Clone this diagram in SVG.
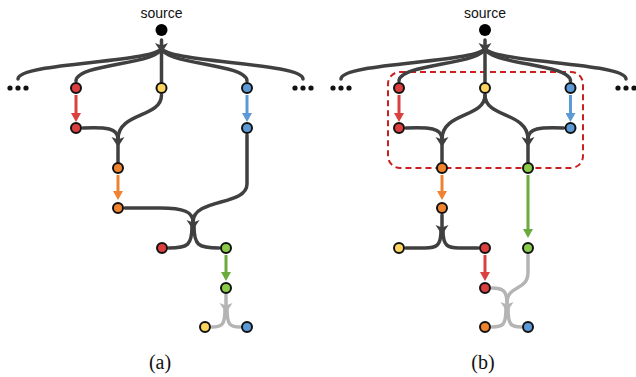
<svg xmlns="http://www.w3.org/2000/svg" xmlns:xlink="http://www.w3.org/1999/xlink" width="636" height="377" viewBox="0 0 636 377">
<style>
.lk{fill:none;stroke:#404040;stroke-width:3.5;stroke-linecap:round}
.lg{fill:none;stroke:#b4b4b4;stroke-width:3.5;stroke-linecap:round}
.ar{fill:none;stroke-width:3}
.n{stroke:#111;stroke-width:2}
.red{fill:#dc3d3f}.yel{fill:#fdd45e}.blu{fill:#5b9ad6}.ora{fill:#f0842c}.gre{fill:#8acb48}
.dot{fill:#111}
.src{font-family:"Liberation Sans",Arial,sans-serif;font-size:14px;fill:#111;text-anchor:middle}
.cap{font-family:"Liberation Serif","Times New Roman",serif;font-size:20px;fill:#111;text-anchor:middle}
.box{fill:none;stroke:#cc1f1f;stroke-width:2;stroke-dasharray:6 4}
</style>
<defs>
<path id="ahD" d="M-6.5,0 L0,2.5 L6.5,0 L0,10 Z" fill="#404040"/>
<path id="ahG" d="M-6.5,0 L0,2.5 L6.5,0 L0,10 Z" fill="#b4b4b4"/>
<marker id="mR" markerUnits="userSpaceOnUse" markerWidth="10" markerHeight="10" viewBox="0 0 9 10" refX="0" refY="5" orient="auto"><path d="M0,0 L9,5 L0,10 Z" fill="#d9403f"/></marker>
<marker id="mB" markerUnits="userSpaceOnUse" markerWidth="10" markerHeight="10" viewBox="0 0 9 10" refX="0" refY="5" orient="auto"><path d="M0,0 L9,5 L0,10 Z" fill="#5b9ad6"/></marker>
<marker id="mO" markerUnits="userSpaceOnUse" markerWidth="10" markerHeight="10" viewBox="0 0 9 10" refX="0" refY="5" orient="auto"><path d="M0,0 L9,5 L0,10 Z" fill="#ee8232"/></marker>
<marker id="mG" markerUnits="userSpaceOnUse" markerWidth="10" markerHeight="10" viewBox="0 0 9 10" refX="0" refY="5" orient="auto"><path d="M0,0 L9,5 L0,10 Z" fill="#6bab3c"/></marker>
</defs>
<rect width="636" height="377" fill="#fff"/>

<rect id="group-box" class="box" x="388" y="72" width="195" height="96" rx="12"/>

<g id="connectors">
<!-- panel a top -->
<path class="lk" d="M161.5 40 V82"/>
<path class="lk" d="M161.5 47 C161.5 63 18 62 18 79"/>
<path class="lk" d="M161.5 47 C161.5 65 76 63 76 81"/>
<path class="lk" d="M161.5 47 C161.5 65 247 63 247 81"/>
<path class="lk" d="M161.5 47 C161.5 63 303 62 303 79"/>
<use xlink:href="#ahD" x="161.5" y="43"/>
<path class="ar" stroke="#d9403f" d="M76 95 V113" marker-end="url(#mR)"/>
<path class="ar" stroke="#5b9ad6" d="M247 95 V113" marker-end="url(#mB)"/>
<path class="lk" d="M83 128 C106 127 118 128 118 139"/>
<path class="lk" d="M161.5 95 C161.5 118 118 112 118 139"/>
<path class="lk" d="M118 139 V162"/>
<use xlink:href="#ahD" x="118" y="137"/>
<path class="ar" stroke="#ee8232" d="M118 175 V191" marker-end="url(#mO)"/>
<path class="lk" d="M125 208 L160 208 C184 208 193 212 193 222"/>
<path class="lk" d="M247 135 V184 C247 206 193 198 193 222"/>
<path class="lk" d="M192 226 C192 245 188 248 169 248"/>
<path class="lk" d="M194 226 C194 245 198 248 219 248"/>
<use xlink:href="#ahD" x="193" y="220"/>
<path class="ar" stroke="#6bab3c" d="M226 255 V272" marker-end="url(#mG)"/>
<path class="lg" d="M226 295 V306"/>
<path class="lg" d="M225 309 C225 325 222 327 212 327"/>
<path class="lg" d="M227 309 C227 325 230 327 240 327"/>
<use xlink:href="#ahG" x="226" y="303"/>

<!-- panel b top -->
<path class="lk" d="M485 40 V82"/>
<path class="lk" d="M485 47 C485 63 341 62 341 79"/>
<path class="lk" d="M485 47 C485 65 399 63 399 81"/>
<path class="lk" d="M485 47 C485 65 570.5 63 570.5 81"/>
<path class="lk" d="M485 47 C485 63 626 62 626 79"/>
<use xlink:href="#ahD" x="485" y="43"/>
<path class="ar" stroke="#d9403f" d="M399 95 V113" marker-end="url(#mR)"/>
<path class="ar" stroke="#5b9ad6" d="M570.5 95 V113" marker-end="url(#mB)"/>
<path class="lk" d="M406 128 C429 127 442 128 442 139"/>
<path class="lk" d="M485 95 C485 118 442 112 442 139"/>
<path class="lk" d="M485 95 C485 118 528 112 528 139"/>
<path class="lk" d="M563.5 128 C540 127 528 128 528 139"/>
<path class="lk" d="M442 139 V162"/>
<path class="lk" d="M528 139 V162"/>
<use xlink:href="#ahD" x="442" y="137"/>
<use xlink:href="#ahD" x="528" y="137"/>
<path class="ar" stroke="#ee8232" d="M442 175 V191" marker-end="url(#mO)"/>
<path class="ar" stroke="#6bab3c" d="M528 175 V229" marker-end="url(#mG)"/>
<path class="lk" d="M442 215 V228"/>
<path class="lk" d="M441 231 C441 246 436 248 425 248 L406 248"/>
<path class="lk" d="M443 231 C443 246 448 248 459 248 L478 248"/>
<use xlink:href="#ahD" x="442" y="225"/>
<path class="ar" stroke="#d9403f" d="M485 255 V272" marker-end="url(#mR)"/>
<path class="lg" d="M528 255 V272 C528 292 507 284 507 303"/>
<path class="lg" d="M492 288 C503 288 507 291 507 303"/>
<path class="lg" d="M506 308 C506 325 503 327 492 327"/>
<path class="lg" d="M508 308 C508 325 511 327 521 327"/>
<use xlink:href="#ahG" x="507" y="302"/>
</g>

<!-- panel a nodes -->
<g id="a-source"><text class="src" x="161.5" y="18">source</text><circle cx="161.5" cy="30" r="6" fill="#000"/></g>
<g id="a-dots-left"><circle class="dot" cx="10" cy="88" r="2.6"/><circle class="dot" cx="18" cy="88" r="2.6"/><circle class="dot" cx="26" cy="88" r="2.6"/></g>
<g id="a-dots-right"><circle class="dot" cx="295" cy="88" r="2.6"/><circle class="dot" cx="303" cy="88" r="2.6"/><circle class="dot" cx="311" cy="88" r="2.6"/></g>
<g id="a-red1"><circle class="n red" cx="76" cy="88" r="5"/></g>
<g id="a-yellow1"><circle class="n yel" cx="161.5" cy="88" r="5"/></g>
<g id="a-blue1"><circle class="n blu" cx="247" cy="88" r="5"/></g>
<g id="a-red2"><circle class="n red" cx="76" cy="128" r="5"/></g>
<g id="a-blue2"><circle class="n blu" cx="247" cy="128" r="5"/></g>
<g id="a-orange1"><circle class="n ora" cx="118" cy="168" r="5"/></g>
<g id="a-orange2"><circle class="n ora" cx="118" cy="208" r="5"/></g>
<g id="a-red3"><circle class="n red" cx="162" cy="248" r="5"/></g>
<g id="a-green1"><circle class="n gre" cx="226" cy="248" r="5"/></g>
<g id="a-green2"><circle class="n gre" cx="226" cy="288" r="5"/></g>
<g id="a-yellow2"><circle class="n yel" cx="205" cy="327" r="5"/></g>
<g id="a-blue3"><circle class="n blu" cx="247" cy="327" r="5"/></g>
<text class="cap" x="160" y="369">(a)</text>

<!-- panel b nodes -->
<g id="b-source"><text class="src" x="485" y="18">source</text><circle cx="485" cy="30" r="6" fill="#000"/></g>
<g id="b-dots-left"><circle class="dot" cx="333" cy="88" r="2.6"/><circle class="dot" cx="341" cy="88" r="2.6"/><circle class="dot" cx="349" cy="88" r="2.6"/></g>
<g id="b-dots-right"><circle class="dot" cx="618" cy="88" r="2.6"/><circle class="dot" cx="626" cy="88" r="2.6"/><circle class="dot" cx="634" cy="88" r="2.6"/></g>
<g id="b-red1"><circle class="n red" cx="399" cy="88" r="5"/></g>
<g id="b-yellow1"><circle class="n yel" cx="485" cy="88" r="5"/></g>
<g id="b-blue1"><circle class="n blu" cx="570.5" cy="88" r="5"/></g>
<g id="b-red2"><circle class="n red" cx="399" cy="128" r="5"/></g>
<g id="b-blue2"><circle class="n blu" cx="570.5" cy="128" r="5"/></g>
<g id="b-orange1"><circle class="n ora" cx="442" cy="168" r="5"/></g>
<g id="b-green1"><circle class="n gre" cx="528" cy="168" r="5"/></g>
<g id="b-orange2"><circle class="n ora" cx="442" cy="208" r="5"/></g>
<g id="b-yellow2"><circle class="n yel" cx="399" cy="248" r="5"/></g>
<g id="b-red3"><circle class="n red" cx="485" cy="248" r="5"/></g>
<g id="b-green2"><circle class="n gre" cx="528" cy="248" r="5"/></g>
<g id="b-red4"><circle class="n red" cx="485" cy="288" r="5"/></g>
<g id="b-orange3"><circle class="n ora" cx="485" cy="327" r="5"/></g>
<g id="b-blue3"><circle class="n blu" cx="528" cy="327" r="5"/></g>
<text class="cap" x="483" y="369">(b)</text>
</svg>
